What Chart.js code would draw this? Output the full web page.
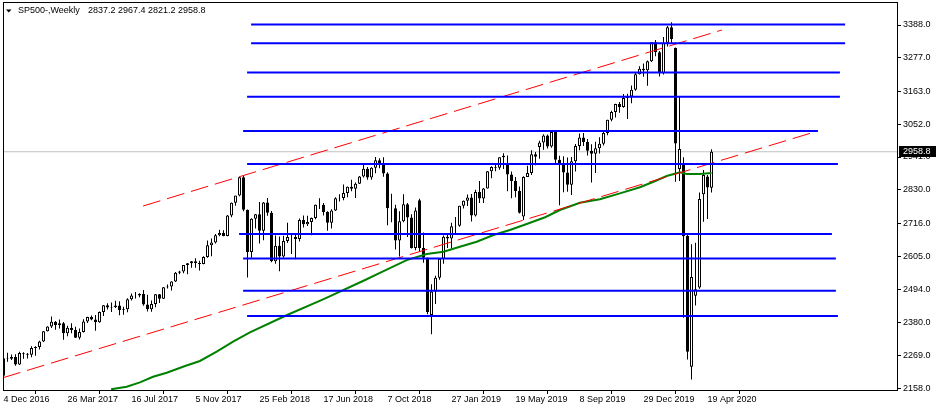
<!DOCTYPE html>
<html><head><meta charset="utf-8">
<script src="https://cdn.jsdelivr.net/npm/chart.js@4.4.1/dist/chart.umd.min.js"></script>
<style>html,body{margin:0;padding:0;background:#fff;overflow:hidden}canvas{display:block}</style>
</head><body>
<canvas id="c" width="938" height="411"></canvas>
<script>
// ---- Data (weekly candles, index 0 = week of 4 Dec 2016) ----
const symbolTitle = 'SP500-,Weekly';
const xTickIndex = [0,16,32,48,64,80,96,112,128,144,160,176];
const xTickLabels = ['4 Dec 2016','26 Mar 2017','16 Jul 2017','5 Nov 2017','25 Feb 2018','17 Jun 2018','7 Oct 2018','27 Jan 2019','19 May 2019','8 Sep 2019','29 Dec 2019','19 Apr 2020'];
const yTickValues = [2158,2269,2380,2494,2605,2716,2830,2941,3052,3163,3277,3388];

const opens = [2200.0,2259.5,2258.1,2263.8,2238.8,2277.0,2274.6,2271.3,2294.7,2297.4,2316.1,2351.2,2367.3,2383.1,2372.6,2378.3,2344.0,2362.7,2355.5,2329.0,
2348.7,2384.2,2399.3,2390.9,2381.7,2415.8,2439.1,2431.8,2433.2,2438.3,2423.4,2425.2,2459.3,2472.5,2472.1,2476.8,2441.3,2425.6,2443.1,2476.6,
2461.4,2500.2,2502.2,2519.4,2549.3,2553.2,2575.2,2581.1,2587.8,2582.3,2578.9,2602.4,2642.2,2651.5,2675.8,2683.3,2673.6,2743.2,2786.2,2810.3,
2872.9,2762.1,2619.6,2732.2,2747.3,2691.3,2786.6,2752.0,2588.3,2640.9,2604.5,2656.3,2670.1,2669.9,2663.4,2727.7,2713.0,2721.3,2734.6,2779.0,
2779.7,2754.9,2718.4,2759.8,2801.3,2801.8,2818.8,2840.4,2833.3,2850.1,2874.7,2901.5,2871.7,2905.0,2929.7,2914.0,2885.6,2767.1,2767.8,2658.7,
2723.1,2781.0,2736.3,2632.6,2795.0,2633.1,2600.0,2406.0,2485.7,2531.9,2596.3,2670.7,2664.8,2706.5,2707.9,2775.6,2792.7,2803.7,2743.1,2822.5,
2800.7,2834.4,2892.7,2907.4,2905.0,2939.9,2920.0,2881.4,2859.5,2826.1,2740.0,2873.3,2887.0,2950.5,2975.0,2990.4,3013.8,2976.6,3025.9,2932.1,
2918.7,2888.7,2847.1,2926.5,2978.7,3007.4,2992.1,2961.8,2952.0,2970.3,2986.2,3022.6,3066.9,3093.1,3120.5,3110.3,3141.0,3145.9,3168.8,3221.2,
3240.0,3234.9,3265.4,3329.6,3295.5,3225.5,3327.7,3380.2,3310.0,2900.0,2914.0,2674.0,2231.0,2471.0,2499.0,2815.0,2875.0,2837.2];

const highs = [2260,2278,2272,2273,2282,2280,2277,2300,2300,2319,2352,2368,2401,2386,2391,2382,2370,2378,2366,2360,
2392,2400,2404,2406,2418,2440,2446,2448,2454,2453,2434,2463,2479,2484,2480,2491,2475,2455,2477,2477,
2501,2509,2520,2552,2556,2575,2582,2589,2598,2590,2605,2658,2665,2680,2695,2693,2745,2787,2810,2873,
2879,2763,2734,2748,2789,2789,2802,2758,2675,2672,2674,2718,2683,2683,2733,2743,2742,2736,2780,2801,
2785,2757,2764,2805,2815,2848,2841,2864,2855,2877,2916,2907,2906,2941,2937,2940,2889,2817,2779,2757,
2815,2785,2747,2770,2800,2685,2601,2510,2539,2598,2675,2681,2718,2738,2776,2794,2814,2816,2830,2860,
2836,2894,2910,2918,2940,2954,2946,2892,2873,2841,2876,2911,2964,2958,2996,3018,3017,3028,3029,2945,
2944,2939,2941,2985,3021,3022,3002,2984,2993,3008,3028,3067,3098,3121,3127,3154,3155,3183,3226,3248,
3258,3268,3330,3337,3300,3347,3385,3397,3312,3144,2940,2680,2646,2651,2821,2897,2880,2967.4];

const lows = [2196,2248,2254,2234,2237,2258,2259,2263,2268,2289,2315,2350,2362,2356,2360,2322,2334,2344,2328,2323,
2347,2379,2388,2353,2380,2403,2425,2416,2430,2405,2407,2415,2455,2462,2466,2437,2418,2417,2432,2447,
2460,2496,2489,2518,2544,2547,2544,2566,2566,2557,2578,2600,2605,2648,2673,2673,2673,2737,2776,2808,
2757,2533,2600,2699,2648,2659,2742,2585,2580,2554,2600,2650,2613,2595,2655,2702,2707,2676,2730,2765,
2743,2691,2699,2758,2790,2795,2805,2825,2802,2850,2872,2864,2864,2886,2903,2874,2710,2720,2628,2604,
2720,2670,2631,2625,2621,2583,2409,2341,2443,2525,2580,2633,2631,2681,2705,2767,2775,2723,2740,2785,
2785,2834,2869,2893,2898,2900,2825,2801,2805,2750,2728,2873,2880,2913,2935,2966,2970,2972,2915,2778,
2822,2823,2812,2892,2964,2978,2946,2855,2887,2953,2980,3015,3062,3075,3091,3108,3070,3123,3165,3220,
3213,3182,3263,3282,3214,3220,3315,3328,2857,2860,2397,2255,2188,2438,2495,2722,2731,2821.2];

const closes = [2259.5,2258.1,2263.8,2238.8,2277.0,2274.6,2271.3,2294.7,2297.4,2316.1,2351.2,2367.3,2383.1,2372.6,2378.3,2344.0,2362.7,2355.5,2329.0,2348.7,
2384.2,2399.3,2390.9,2381.7,2415.8,2439.1,2431.8,2433.2,2438.3,2423.4,2425.2,2459.3,2472.5,2472.1,2476.8,2441.3,2425.6,2443.1,2476.6,2461.4,
2500.2,2502.2,2519.4,2549.3,2553.2,2575.2,2581.1,2587.8,2582.3,2578.9,2602.4,2642.2,2651.5,2675.8,2683.3,2673.6,2743.2,2786.2,2810.3,2872.9,
2762.1,2619.6,2732.2,2747.3,2691.3,2786.6,2752.0,2588.3,2640.9,2604.5,2656.3,2670.1,2669.9,2663.4,2727.7,2713.0,2721.3,2734.6,2779.0,2779.7,
2754.9,2718.4,2759.8,2801.3,2801.8,2818.8,2840.4,2833.3,2850.1,2874.7,2901.5,2871.7,2905.0,2929.7,2914.0,2885.6,2767.1,2767.8,2658.7,2723.1,
2781.0,2736.3,2632.6,2760.2,2633.1,2600.0,2416.6,2485.7,2531.9,2596.3,2670.7,2664.8,2706.5,2707.9,2775.6,2792.7,2803.7,2743.1,2822.5,2800.7,
2834.4,2892.7,2907.4,2905.0,2939.9,2945.6,2881.4,2859.5,2826.1,2752.1,2873.3,2887.0,2950.5,2941.8,2990.4,3013.8,2976.6,3025.9,2932.1,2918.7,
2888.7,2847.1,2926.5,2978.7,3007.4,2992.1,2961.8,2952.0,2970.3,2986.2,3022.6,3066.9,3093.1,3120.5,3110.3,3141.0,3145.9,3168.8,3221.2,3240.0,
3234.9,3265.4,3329.6,3295.5,3225.5,3327.7,3380.2,3341.0,2987.0,2968.0,2673.0,2282.0,2535.0,2493.0,2799.0,2880.0,2838.0,2958.8];

// moving average line (bar index, price)
const maIndex = [26.9,30.8,34.1,37.4,40.8,45.4,49.1,53.3,57.4,61.6,70.9,79.9,90.4,94.1,100.8,105.8,110,114.1,118.3,122.5,126.6,130.8,135.4,139.1,144.1,149.1,154.1,159.1,162.5,165.8,169.1,170.8,174.1,177];
const maValues = [2154.5,2163.3,2178,2197,2210.7,2233.4,2250.3,2281.8,2315.6,2347.5,2406,2459,2524.6,2549,2592,2612.6,2620.4,2637.3,2654.3,2677,2694,2714,2737,2761.6,2786.3,2798,2818,2838.5,2857.4,2876.7,2889.3,2883.5,2883.5,2887];

// horizontal levels (price, from bar, to bar)
const levelPrices = [3390,3326,3227,3145,3029,2917,2680,2597,2488,2403];
const levelFrom   = [61.9,61.9,60.9,60.9,59.9,60.9,58.9,59.9,59.9,60.9];
const levelTo     = [210.4,210.4,209.1,209.1,203.6,208.6,207.1,208.1,208.1,208.6];

// channel trend lines (bar, price) pairs
const channelLower = [[-0.1,2193.8],[203.6,3029.1]];
const channelUpper = [[34.9,2775.1],[179.6,3371.1]];

// ---- Chart ----
const X_MIN = -0.125, X_MAX = 223.375;
const Y_MAX = 3462.5, Y_MIN = 2152.1;
const FONT = {family: '"Liberation Sans", Arial, sans-serif', size: 9};
const last = closes.length - 1;

const bodies = closes.map((c, i) => ({x: i, y: [opens[i], c]}));
const wicks = closes.map((c, i) => ({x: i, y: [lows[i], highs[i]]}));
const bodyFill = closes.map((c, i) => c >= opens[i] ? '#ffffff' : '#000000');

const lineBase = {type: 'line', pointRadius: 0, pointHoverRadius: 0, tension: 0, fill: false, clip: 0};
const datasets = [];
datasets.push(Object.assign({}, lineBase, {
  data: [{x: X_MIN, y: closes[last]}, {x: X_MAX, y: closes[last]}],
  borderColor: '#c0c0c0', borderWidth: 1, order: 10
}));
datasets.push({type: 'bar', data: wicks, backgroundColor: '#000000', borderWidth: 0,
  barThickness: 1, grouped: false, inflateAmount: 0, order: 9});
datasets.push({type: 'bar', data: bodies, backgroundColor: bodyFill, borderColor: '#000000',
  borderWidth: 1, borderSkipped: false, barThickness: 3, grouped: false, inflateAmount: 0, order: 8});
datasets.push(Object.assign({}, lineBase, {
  data: maIndex.map((x, k) => ({x, y: maValues[k]})),
  borderColor: '#008000', borderWidth: 2, order: 3
}));
[channelLower, channelUpper].forEach(seg => datasets.push(Object.assign({}, lineBase, {
  data: seg.map(p => ({x: p[0], y: p[1]})),
  borderColor: '#ff0000', borderWidth: 1, borderDash: [18, 7], order: 2
})));
levelPrices.forEach((p, k) => datasets.push(Object.assign({}, lineBase, {
  data: [{x: levelFrom[k], y: p}, {x: levelTo[k], y: p}],
  borderColor: '#0000ff', borderWidth: 2, order: 1
})));

const overlay = {
  id: 'overlay',
  afterDraw(chart) {
    const ctx = chart.ctx, a = chart.chartArea;
    ctx.save();
    ctx.strokeStyle = '#000'; ctx.lineWidth = 1;
    ctx.strokeRect(a.left + 0.5, a.top - 0.5, a.right - a.left, a.bottom - a.top + 1);
    // header
    ctx.fillStyle = '#000';
    ctx.beginPath(); ctx.moveTo(6, 9.5); ctx.lineTo(11.5, 9.5); ctx.lineTo(8.75, 12.5); ctx.closePath(); ctx.fill();
    ctx.font = '9px "Liberation Sans", Arial, sans-serif';
    ctx.textBaseline = 'middle'; ctx.textAlign = 'left';
    ctx.fillText(symbolTitle, 18, 11);
    ctx.fillText([opens[last], highs[last], lows[last], closes[last]].map(v => v.toFixed(1)).join(' '), 88, 11);
    // last price box
    const yp = Math.round(chart.scales.y.getPixelForValue(closes[last]));
    ctx.fillRect(899, yp - 6, 37, 11);
    ctx.fillStyle = '#fff';
    ctx.fillText(closes[last].toFixed(1), 903, yp - 0.5);
    ctx.restore();
  }
};

new Chart(document.getElementById('c'), {
  type: 'bar',
  data: {datasets},
  options: {
    responsive: false, animation: false, devicePixelRatio: 1,
    events: [],
    layout: {padding: {left: 3, top: 3, right: 0, bottom: 0}},
    plugins: {legend: {display: false}, tooltip: {enabled: false}, title: {display: false}},
    scales: {
      x: {
        type: 'linear', min: X_MIN, max: X_MAX, offset: false,
        grid: {display: true, drawOnChartArea: false, drawTicks: true, tickLength: 4, color: '#000', lineWidth: 1},
        border: {display: false},
        ticks: {autoSkip: false, maxRotation: 0, minRotation: 0, align: 'start', padding: 0, color: '#000', font: FONT,
          callback: (v) => { const k = xTickIndex.indexOf(v); return k >= 0 ? xTickLabels[k] : ''; }},
        afterBuildTicks: (s) => { s.ticks = xTickIndex.map(v => ({value: v})); },
        afterFit: (s) => { s.height = 21; s.paddingLeft = 0; s.paddingRight = 0; }
      },
      y: {
        type: 'linear', position: 'right', min: Y_MIN, max: Y_MAX,
        grid: {display: true, drawOnChartArea: false, drawTicks: true, tickLength: 4, color: '#000', lineWidth: 1},
        border: {display: false},
        ticks: {padding: 2, color: '#000', font: FONT, callback: (v) => Number(v).toFixed(1)},
        afterBuildTicks: (s) => { s.ticks = yTickValues.map(v => ({value: v})); },
        afterFit: (s) => { s.width = 41; s.paddingTop = 0; s.paddingBottom = 0; }
      }
    }
  },
  plugins: [overlay]
});
</script>
</body></html>
